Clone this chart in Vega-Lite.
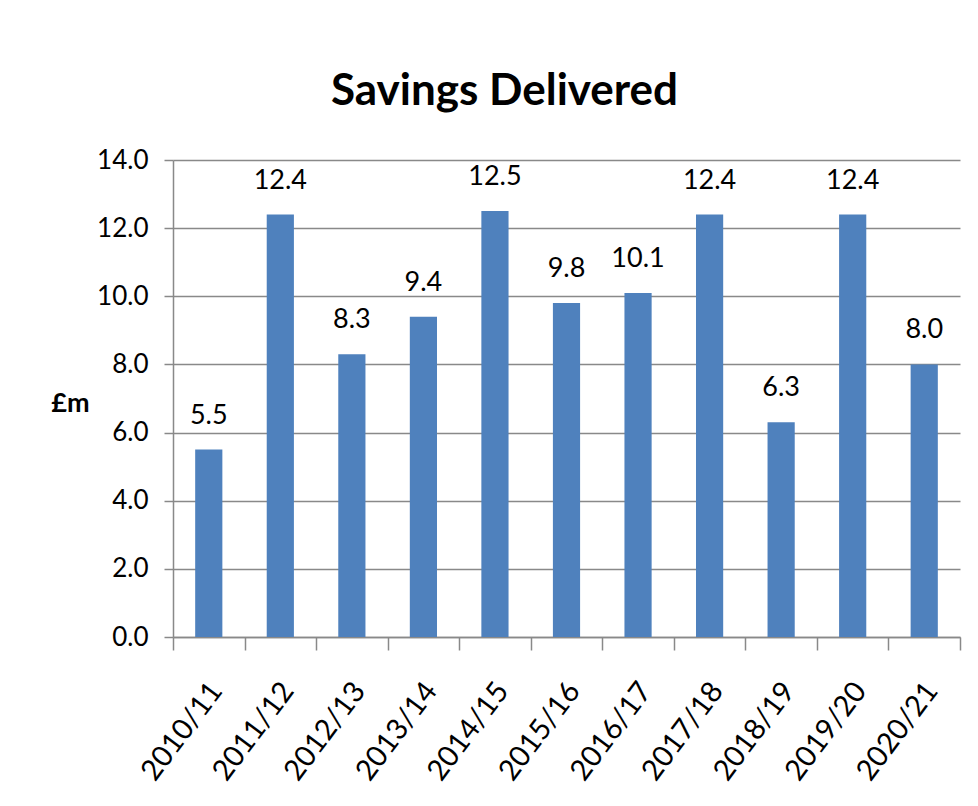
{
  "$schema": "https://vega.github.io/schema/vega-lite/v6.json",
  "width": 787,
  "height": 477,
  "autosize": {"type": "none"},
  "padding": {"left": 173, "top": 160, "right": 18, "bottom": 169},
  "background": "white",
  "title": {
    "text": "Savings Delivered",
    "font": "Lato",
    "fontSize": 44,
    "fontWeight": "bold",
    "color": "black",
    "anchor": "middle",
    "baseline": "alphabetic",
    "offset": 50,
    "dx": -62,
    "dy": 52
  },
  "config": {"view": {"stroke": null}},
  "data": {
    "values": [
      {"year": "2010/11", "value": 5.5},
      {"year": "2011/12", "value": 12.4},
      {"year": "2012/13", "value": 8.3},
      {"year": "2013/14", "value": 9.4},
      {"year": "2014/15", "value": 12.5},
      {"year": "2015/16", "value": 9.8},
      {"year": "2016/17", "value": 10.1},
      {"year": "2017/18", "value": 12.4},
      {"year": "2018/19", "value": 6.3},
      {"year": "2019/20", "value": 12.4},
      {"year": "2020/21", "value": 8.0}
    ]
  },
  "encoding": {
    "x": {
      "field": "year",
      "type": "nominal",
      "sort": null,
      "scale": {"paddingInner": 0, "paddingOuter": 0},
      "axis": {
        "title": null,
        "tickBand": "extent",
        "tickSize": 13,
        "tickWidth": 1.5,
        "tickColor": "#898989",
        "domainColor": "#898989",
        "domainWidth": 1.5,
        "labelAngle": -53,
        "labelAlign": "right",
        "labelBaseline": "top",
        "labelPadding": 27,
        "labelOffset": -4,
        "labelFont": "Lato",
        "labelFontSize": 29,
        "labelColor": "black"
      }
    },
    "y": {
      "field": "value",
      "type": "quantitative",
      "scale": {"domain": [0, 14]},
      "axis": {
        "values": [0, 2, 4, 6, 8, 10, 12, 14],
        "format": ".1f",
        "title": "£m",
        "titleAngle": 0,
        "titleX": -103,
        "titleY": 243,
        "titleAlign": "center",
        "titleBaseline": "middle",
        "titleFont": "Lato",
        "titleFontSize": 27,
        "titleFontWeight": "bold",
        "titleColor": "black",
        "labelFont": "Lato",
        "labelFontSize": 26,
        "labelColor": "black",
        "labelPadding": 16,
        "tickSize": 9,
        "tickWidth": 1.5,
        "tickColor": "#898989",
        "domainColor": "#898989",
        "domainWidth": 1.5,
        "gridColor": "#898989",
        "gridWidth": 1.5
      }
    }
  },
  "layer": [
    {"mark": {"type": "bar", "color": "#4F81BD", "width": {"band": 0.38}}},
    {
      "mark": {
        "type": "text",
        "baseline": "alphabetic",
        "dy": -26,
        "font": "Lato",
        "fontSize": 27,
        "color": "black"
      },
      "encoding": {"text": {"field": "value", "type": "quantitative", "format": ".1f"}}
    }
  ]
}
